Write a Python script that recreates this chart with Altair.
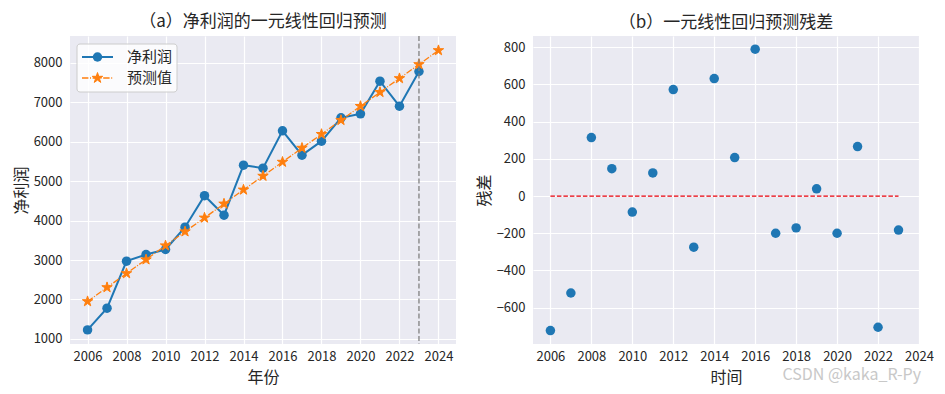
import math
import pandas as pd
import altair as alt

# ---------------- data ----------------
years = [2006, 2007, 2008, 2009, 2010, 2011, 2012, 2013, 2014, 2015,
         2016, 2017, 2018, 2019, 2020, 2021, 2022, 2023]
profit = [1228, 1779, 2971, 3138, 3266, 3832, 4630, 4137, 5405, 5329,
          6275, 5658, 6013, 6605, 6707, 7535, 6901, 7780]

pred_years = [2006, 2007, 2008, 2009, 2010, 2011, 2012, 2013, 2014, 2015,
              2016, 2017, 2018, 2019, 2020, 2021, 2022, 2023, 2024]
predicted = [1950, 2305, 2660, 3010, 3365, 3720, 4070, 4425, 4780, 5130,
             5485, 5840, 6190, 6545, 6900, 7255, 7605, 7960, 8315]

residual = [-723, -521, 314, 147, -86, 124, 572, -275, 631, 207,
            789, -200, -171, 39, -200, 266, -705, -183]

split_year = [2023]
zero_line = {"x": [2006], "x2": [2023], "y": [0]}

legend_labels = ["净利润", "预测值"]
title_a = "（a）净利润的一元线性回归预测"
title_b = "（b）一元线性回归预测残差"
xtitle_a, ytitle_a = "年份", "净利润"
xtitle_b, ytitle_b = "时间", "残差"
watermark = "CSDN @kaka_R-Py"

xticks_a = [2006, 2008, 2010, 2012, 2014, 2016, 2018, 2020, 2022, 2024]
yticks_a = [1000, 2000, 3000, 4000, 5000, 6000, 7000, 8000]
yticks_b = [-600, -400, -200, 0, 200, 400, 600, 800]

# ---------------- style ----------------
FONT = "Noto Sans CJK SC"
BG = "#EAEAF2"
TXT = "#262626"
BLUE = "#1f77b4"
ORANGE = "#ff7f0e"
W, H = 386, 308


def star_path(n=5, inner=0.382):
    pts = []
    for i in range(2 * n):
        ang = math.radians(-90 + 180.0 / n * i)
        r = 1.0 if i % 2 == 0 else inner
        pts.append(f"{r * math.cos(ang):.4f},{r * math.sin(ang):.4f}")
    return "M" + "L".join(pts) + "Z"


STAR = star_path()

df_a = pd.DataFrame({"year": years, "profit": profit})
df_p = pd.DataFrame({"year": pred_years, "profit": predicted})
df_v = pd.DataFrame({"year": split_year})
df_r = pd.DataFrame({"year": years, "res": residual})
df_h = pd.DataFrame(zero_line)
one = pd.DataFrame({"k": [0]})

xa = alt.X("year:Q",
           scale=alt.Scale(domain=[2005.1, 2024.9], nice=False, zero=False),
           axis=alt.Axis(values=xticks_a, format="d", title=xtitle_a))
ya = alt.Y("profit:Q",
           scale=alt.Scale(domain=[870, 8680], nice=False, zero=False),
           axis=alt.Axis(values=yticks_a, format="d", title=ytitle_a))

line_a = alt.Chart(df_a).mark_line(color=BLUE, strokeWidth=2).encode(x=xa, y=ya)
pts_a = alt.Chart(df_a).mark_point(filled=True, color=BLUE, size=90, opacity=1).encode(x=xa, y=ya)
line_p = alt.Chart(df_p).mark_line(color=ORANGE, strokeWidth=1.3,
                                   strokeDash=[6.4, 1.6, 1, 1.6]).encode(x=xa, y=ya)
pts_p = alt.Chart(df_p).mark_point(shape=STAR, filled=True, color=ORANGE, size=120,
                                   stroke=ORANGE, strokeWidth=1, opacity=1).encode(x=xa, y=ya)
vline = alt.Chart(df_v).mark_rule(color="#808080", strokeWidth=1.3,
                                  strokeDash=[5, 2.5]).encode(x=xa)

# legend (decoration)
leg_box = alt.Chart(one).mark_rect(fill="white", fillOpacity=0.8, stroke="#cccccc",
                                   strokeWidth=1, cornerRadius=3).encode(
    x=alt.value(7), x2=alt.value(107), y=alt.value(8), y2=alt.value(56))
leg_l1 = alt.Chart(one).mark_rule(color=BLUE, strokeWidth=2).encode(
    x=alt.value(12), x2=alt.value(43), y=alt.value(21))
leg_m1 = alt.Chart(one).mark_point(filled=True, color=BLUE, size=90, opacity=1).encode(
    x=alt.value(27.5), y=alt.value(21))
leg_t1 = alt.Chart(one).mark_text(align="left", baseline="middle", font=FONT, fontSize=15,
                                  color=TXT).encode(
    x=alt.value(57), y=alt.value(21), text=alt.value(legend_labels[0]))
leg_l2 = alt.Chart(one).mark_rule(color=ORANGE, strokeWidth=1.3,
                                  strokeDash=[6.4, 1.6, 1, 1.6]).encode(
    x=alt.value(12), x2=alt.value(43), y=alt.value(42))
leg_m2 = alt.Chart(one).mark_point(shape=STAR, filled=True, color=ORANGE, size=120,
                                   stroke=ORANGE, strokeWidth=1, opacity=1).encode(
    x=alt.value(27.5), y=alt.value(42))
leg_t2 = alt.Chart(one).mark_text(align="left", baseline="middle", font=FONT, fontSize=15,
                                  color=TXT).encode(
    x=alt.value(57), y=alt.value(42), text=alt.value(legend_labels[1]))

left = alt.layer(line_a, pts_a, line_p, pts_p, vline,
                 leg_box, leg_l1, leg_m1, leg_t1, leg_l2, leg_m2, leg_t2).properties(
    width=W, height=H, title=title_a)

xb = alt.X("year:Q",
           scale=alt.Scale(domain=[2005.15, 2024], nice=False, zero=False),
           axis=alt.Axis(values=xticks_a, format="d", title=xtitle_b))
yb = alt.Y("res:Q",
           scale=alt.Scale(domain=[-795, 860], nice=False, zero=False),
           axis=alt.Axis(values=yticks_b, format="d", title=ytitle_b))

pts_b = alt.Chart(df_r).mark_point(filled=True, color=BLUE, size=90, opacity=1).encode(x=xb, y=yb)
hline = alt.Chart(df_h).mark_rule(color="#e8000b", strokeWidth=1.3, strokeDash=[4.5, 2]).encode(
    x=alt.X("x:Q", scale=alt.Scale(domain=[2005.15, 2024], nice=False, zero=False)),
    x2="x2:Q",
    y=alt.Y("y:Q", scale=alt.Scale(domain=[-795, 860], nice=False, zero=False)))
wm = alt.Chart(one).mark_text(align="right", baseline="middle", font=FONT, fontSize=16,
                              color="#c8c8c8").encode(
    x=alt.value(388), y=alt.value(339), text=alt.value(watermark))

right = alt.layer(pts_b, hline, wm).properties(width=W, height=H, title=title_b)

chart = alt.hconcat(left, right, spacing=20).properties(
    padding={"left": 5, "top": 5, "right": 0, "bottom": 0}
).configure_view(fill=BG, stroke=None).configure_axis(
    domain=False, ticks=False, grid=True, gridColor="white", gridWidth=1.2,
    labelFont=FONT, labelFontSize=13, labelColor=TXT, labelPadding=6,
    labelOverlap=False, labelBound=False, labelFlush=False,
    titleFont=FONT, titleFontSize=16, titleFontWeight="normal", titleColor=TXT,
    titlePadding=4
).configure_axisY(labelPadding=8
).configure_axisX(labelPadding=6, titlePadding=6
).configure_title(font=FONT, fontSize=17, fontWeight="normal", color=TXT,
                  offset=4, anchor="middle")

chart.save("out.html", embed_options={"renderer": "svg", "actions": False})
